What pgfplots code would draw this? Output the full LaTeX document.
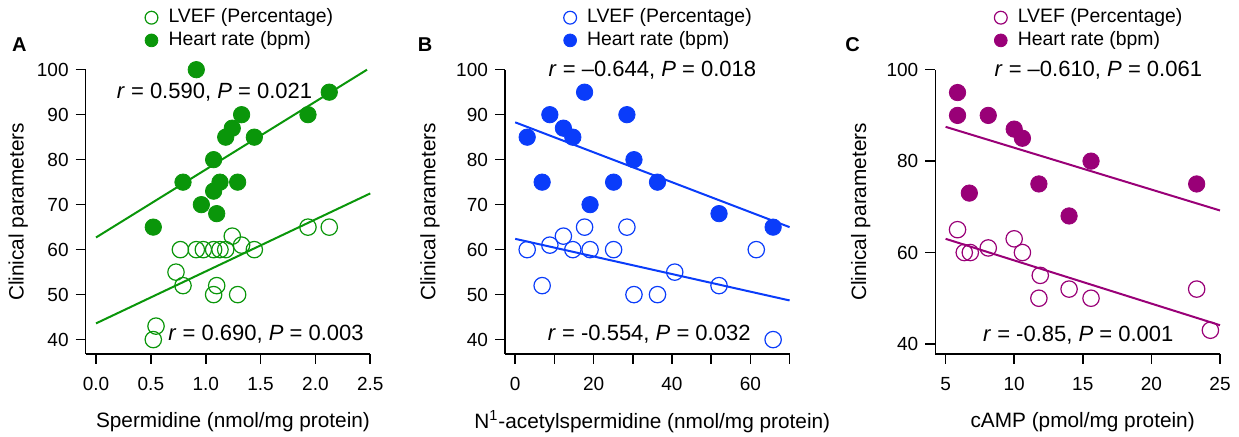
\documentclass[border=0pt]{standalone}
\usepackage{fontspec}
\setmainfont{Liberation Sans}
\usepackage{pgfplots}
\pgfplotsset{compat=1.18}

\definecolor{cgreen}{HTML}{0A960A}
\definecolor{cblue}{HTML}{0A3CFA}
\definecolor{cpurple}{HTML}{990077}

\pgfplotsset{
  panel/.style={
    scale only axis, anchor=south west,
    width=142.3pt, height=142.15pt,
    axis x line*=bottom, axis y line*=left,
    axis line style={line width=0.8pt},
    tick align=outside, major tick length=5pt, minor tick length=5pt,
    every tick/.style={line width=0.8pt, black},
    clip=false,
    ticklabel style={font=\fontsize{9.5}{11}\selectfont},
    xticklabel style={yshift=-3pt},
    /pgf/number format/assume math mode=true,
    label style={font=\fontsize{10.4}{12}\selectfont},
    xlabel style={at={(axis description cs:0.5,-0.238)}, anchor=center, xshift=2.5pt},
    legend style={draw=none, fill=none, anchor=north west, inner sep=0pt,
      font=\fontsize{9.7}{11}\selectfont, cells={anchor=west},
      nodes={inner sep=1pt, text height=7pt, text depth=2pt}, row sep=0.35pt},
    legend image code/.code={\draw[##1,mark size=3.2pt] plot coordinates {(0pt,0pt)};
      \path (-3.6pt,0pt) (7.3pt,0pt);},
  },
  openpt/.style={only marks, mark=o, mark size=4.1pt, mark options={line width=0.6pt, fill=none}},
  fillpt/.style={only marks, mark=*, mark size=4.1pt},
  fit/.style={no marks, line width=1pt, forget plot},
}

\newcommand{\stat}{\fontsize{11}{13}\selectfont}

\begin{document}
\begin{tikzpicture}
\useasboundingbox (0,0) rectangle (619.5pt,218.5pt);

% ---------- A ----------
\begin{axis}[panel, at={(42.85pt,41.5pt)},
  xmin=-0.094, xmax=2.5, ymin=36.8, ymax=100,
  xtick={0,0.5,...,2.5}, ytick={40,50,...,100},
  xticklabel style={/pgf/number format/fixed, /pgf/number format/fixed zerofill, /pgf/number format/precision=1},
  xlabel={Spermidine (nmol/mg protein)},
  ylabel={Clinical parameters},
  ylabel style={at={(axis description cs:-0.2368,0.5)}, anchor=center},
  legend style={at={(axis description cs:0.2031,1.2230)}},
]
\addplot[openpt, color=cgreen] coordinates {
  (1.932,65) (2.126,65) (1.242,63) (1.327,61) (0.769,60) (0.914,60)
  (0.978,60) (1.072,60) (1.130,60) (1.182,60) (1.443,60) (0.729,55)
  (0.793,52) (1.100,52) (1.072,50) (1.291,50) (0.547,43) (0.522,40)
};
\addlegendentry{LVEF (Percentage)}
\addplot[fillpt, color=cgreen] coordinates {
  (0.914,100) (2.126,95) (1.932,90) (1.327,90) (1.242,87) (1.182,85)
  (1.443,85) (1.072,80) (0.793,75) (1.130,75) (1.291,75) (1.072,73)
  (0.960,70) (1.100,68) (0.522,65)
};
\addlegendentry{Heart rate (bpm)}
\addplot[fit, color=cgreen] coordinates {(0,62.7) (2.47,100)};
\addplot[fit, color=cgreen] coordinates {(0,43.6) (2.5,72.5)};
\node[font=\stat] at (axis cs:1.08,95) {\textit{r} = 0.590, \textit{P} = 0.021};
\node[font=\stat] at (axis cs:1.55,41.3) {\textit{r} = 0.690, \textit{P} = 0.003};
\end{axis}

% ---------- B ----------
\begin{axis}[panel, at={(252.5pt,41.5pt)},
  xmin=-2.6, xmax=70, ymin=36.8, ymax=100,
  xtick={0,20,...,60}, minor xtick={10,30,50,70}, ytick={40,50,...,100},
  xlabel={N\textsuperscript{1}-acetylspermidine (nmol/mg protein)},
  ylabel={Clinical parameters},
  ylabel style={at={(axis description cs:-0.2638,0.5)}, anchor=center},
  legend style={at={(axis description cs:0.2008,1.2230)}},
]
\addplot[openpt, color=cblue] coordinates {
  (3.06,60) (6.88,52) (8.84,61) (12.3,63) (14.7,60) (17.7,65) (19.1,60)
  (25.1,60) (28.5,65) (30.3,50) (36.3,50) (40.7,55) (52.0,52) (61.5,60)
  (65.8,40)
};
\addlegendentry{LVEF (Percentage)}
\addplot[fillpt, color=cblue] coordinates {
  (3.06,85) (6.88,75) (8.84,90) (12.3,87) (14.7,85) (17.7,95) (19.1,70)
  (25.1,75) (28.5,90) (30.3,80) (36.3,75) (52.0,68) (65.8,65)
};
\addlegendentry{Heart rate (bpm)}
\addplot[fit, color=cblue] coordinates {(0,88.3) (70,65.0)};
\addplot[fit, color=cblue] coordinates {(0,62.4) (70,48.7)};
\node[font=\stat] at (axis cs:35.0,99.8) {\textit{r} = –0.644, \textit{P} = 0.018};
\node[font=\stat] at (axis cs:34.2,41.3) {\textit{r} = -0.554, \textit{P} = 0.032};
\end{axis}

% ---------- C ----------
\begin{axis}[panel, at={(467.65pt,41.5pt)}, width=142.35pt,
  xmin=4.25, xmax=25, ymin=37.8, ymax=100,
  xtick={5,10,...,25}, ytick={40,60,80,100},
  xlabel={cAMP (pmol/mg protein)},
  ylabel={Clinical parameters},
  ylabel style={at={(axis description cs:-0.262,0.5)}, anchor=center},
  legend style={at={(axis description cs:0.2020,1.2230)}},
]
\addplot[openpt, color=cpurple] coordinates {
  (5.87,65) (6.36,60) (6.80,60) (8.11,61) (10.0,63) (10.6,60) (11.9,55)
  (11.8,50) (14.0,52) (15.6,50) (23.3,52) (24.3,43)
};
\addlegendentry{LVEF (Percentage)}
\addplot[fillpt, color=cpurple] coordinates {
  (5.87,95) (5.87,90) (8.11,90) (10.0,87) (10.6,85) (15.6,80) (11.8,75)
  (23.3,75) (6.73,73) (14.0,68)
};
\addlegendentry{Heart rate (bpm)}
\addplot[fit, color=cpurple] coordinates {(5,87.5) (25,69.2)};
\addplot[fit, color=cpurple] coordinates {(5,63.0) (25,44.1)};
\node[font=\stat] at (axis cs:16.13,99.8) {\textit{r} = –0.610, \textit{P} = 0.061};
\node[font=\stat] at (axis cs:14.67,42.0) {\textit{r} = -0.85, \textit{P} = 0.001};
\end{axis}

\node[font=\bfseries\fontsize{10}{12}\selectfont] at (9.65pt,196.35pt) {A};
\node[font=\bfseries\fontsize{10}{12}\selectfont] at (212.5pt,196.35pt) {B};
\node[font=\bfseries\fontsize{10}{12}\selectfont] at (426.35pt,196.35pt) {C};
\end{tikzpicture}
\end{document}
